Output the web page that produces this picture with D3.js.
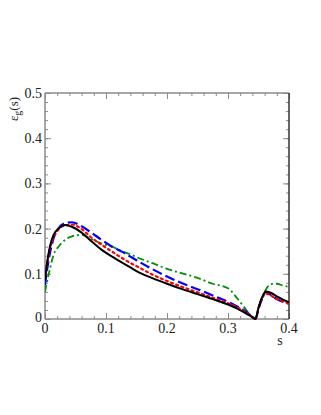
<!DOCTYPE html>
<html><head><meta charset="utf-8">
<script src="https://cdn.jsdelivr.net/npm/d3@7/dist/d3.min.js"></script>
<style>body{margin:0;background:#fff}svg{display:block}</style>
</head><body>
<script>
const sGrid = [0, 0.003, 0.008, 0.014, 0.022, 0.033, 0.044, 0.06, 0.077, 0.093, 0.11, 0.126, 0.14, 0.15, 0.175, 0.2, 0.225, 0.25, 0.275, 0.3, 0.315, 0.33, 0.34, 0.345, 0.35, 0.355, 0.362, 0.37, 0.38, 0.39, 0.4];
const blackVals = [0.085, 0.12, 0.16, 0.186, 0.200, 0.208, 0.204, 0.191, 0.171, 0.153, 0.138, 0.125, 0.114, 0.106, 0.091, 0.078, 0.066, 0.055, 0.044, 0.032, 0.023, 0.012, 0.004, 0.0, 0.025, 0.045, 0.061, 0.058, 0.05, 0.043, 0.037];
const redVals = [0.09, 0.118, 0.155, 0.18, 0.198, 0.207, 0.209, 0.199, 0.179, 0.164, 0.149, 0.135, 0.124, 0.117, 0.099, 0.084, 0.071, 0.059, 0.047, 0.035, 0.026, 0.014, 0.004, 0.0, 0.024, 0.043, 0.056, 0.052, 0.044, 0.039, 0.034];
const blueVals = [0.075, 0.105, 0.145, 0.178, 0.2, 0.212, 0.214, 0.205, 0.19, 0.175, 0.16, 0.149, 0.138, 0.13, 0.111, 0.094, 0.079, 0.066, 0.052, 0.038, 0.028, 0.016, 0.005, 0.0, 0.022, 0.042, 0.06, 0.053, 0.044, 0.038, 0.034];
const greenVals = [0.06, 0.08, 0.11, 0.142, 0.16, 0.175, 0.183, 0.186, 0.176, 0.167, 0.16, 0.15, 0.143, 0.137, 0.124, 0.111, 0.101, 0.091, 0.078, 0.068, 0.046, 0.02, 0.004, 0.002, 0.025, 0.045, 0.065, 0.077, 0.078, 0.074, 0.071];
const xTicks = [0, 0.1, 0.2, 0.3, 0.4];
const xTickLabels = ["0", "0.1", "0.2", "0.3", "0.4"];
const yTicks = [0, 0.1, 0.2, 0.3, 0.4, 0.5];
const yTickLabels = ["0", "0.1", "0.2", "0.3", "0.4", "0.5"];

const series = [
  {vals: greenVals, color: "#009000", dash: "7,3,2,3", w: 1.8},
  {vals: blueVals, color: "#0000ff", dash: "10,4", w: 2.2},
  {vals: redVals, color: "#ff0000", dash: "2,3.5", w: 2.2},
  {vals: blackVals, color: "#000000", dash: null, w: 2}
];

const W = 321, H = 415;
const L = 45, R = 289, T = 93, B = 319;
const svg = d3.select("body").append("svg").attr("width", W).attr("height", H);
const x = d3.scaleLinear().domain([0, 0.4]).range([L, R]);
const y = d3.scaleLinear().domain([0, 0.5]).range([B, T]);

const minorX = d3.range(0, 0.4001, 0.02);
const minorY = d3.range(0, 0.5001, 0.02);
const gray = "#8a8a8a";
const fontFam = "Times New Roman, Liberation Serif, Times, serif";

function tickAxis(gen, scale, vals, size, transform) {
  svg.append("g").attr("transform", transform)
    .call(gen(scale).tickValues(vals).tickSize(size).tickFormat(""))
    .call(g => { g.select(".domain").remove(); g.selectAll("line").attr("stroke", gray).attr("stroke-width", 1); });
}
tickAxis(d3.axisTop, x, minorX, 3, `translate(0,${B})`);
tickAxis(d3.axisTop, x, xTicks, 6, `translate(0,${B})`);
tickAxis(d3.axisBottom, x, minorX, 3, `translate(0,${T})`);
tickAxis(d3.axisBottom, x, xTicks, 6, `translate(0,${T})`);
tickAxis(d3.axisRight, y, minorY, 3, `translate(${L},0)`);
tickAxis(d3.axisRight, y, yTicks, 6, `translate(${L},0)`);
tickAxis(d3.axisLeft, y, minorY, 3, `translate(${R},0)`);
tickAxis(d3.axisLeft, y, yTicks, 6, `translate(${R},0)`);

svg.append("line").attr("x1", L).attr("x2", R).attr("y1", T).attr("y2", T).attr("stroke", gray).attr("stroke-width", 1.5);
svg.append("line").attr("x1", L).attr("x2", R).attr("y1", B).attr("y2", B).attr("stroke", gray).attr("stroke-width", 1.5);
svg.append("line").attr("x1", L).attr("x2", L).attr("y1", T).attr("y2", B).attr("stroke", gray).attr("stroke-width", 1.5);
svg.append("line").attr("x1", R).attr("x2", R).attr("y1", T).attr("y2", B).attr("stroke", "#333").attr("stroke-width", 1.5);

svg.append("g").selectAll("text").data(xTicks).join("text")
  .attr("x", d => x(d)).attr("y", B + 13.5).attr("text-anchor", "middle")
  .attr("font-family", fontFam).attr("font-size", 14).attr("fill", "#222")
  .text((d, i) => xTickLabels[i]);
svg.append("g").selectAll("text").data(yTicks).join("text")
  .attr("x", L - 3).attr("y", d => y(d) + 5 - (d === 0 ? 2 : 0)).attr("text-anchor", "end")
  .attr("font-family", fontFam).attr("font-size", 14).attr("fill", "#222")
  .text((d, i) => yTickLabels[i]);

svg.append("text").attr("x", 280).attr("y", 345).attr("text-anchor", "middle")
  .attr("font-family", fontFam).attr("font-size", 14).attr("fill", "#222").text("s");
const yl = svg.append("text").attr("transform", "translate(18,109) rotate(-90)")
  .attr("text-anchor", "middle").attr("font-family", fontFam).attr("font-size", 13).attr("fill", "#222");
yl.append("tspan").text("ε");
yl.append("tspan").attr("font-size", 10).attr("dy", 3).text("g");
yl.append("tspan").attr("dy", -3).text("(s)");

const line = d3.line().x(d => x(d[0])).y(d => y(d[1])).curve(d3.curveMonotoneX);
svg.append("clipPath").attr("id", "clip").append("rect").attr("x", L).attr("y", T).attr("width", R - L).attr("height", B - T + 1);
const cg = svg.append("g").attr("clip-path", "url(#clip)");
series.forEach(s => {
  cg.append("path").datum(sGrid.map((v, i) => [v, s.vals[i]]))
    .attr("d", line).attr("fill", "none").attr("stroke", s.color)
    .attr("stroke-width", s.w).attr("stroke-dasharray", s.dash)
    .attr("stroke-linecap", s.dash && s.dash.startsWith("2,") ? "round" : "butt");
});
</script>
</body></html>
